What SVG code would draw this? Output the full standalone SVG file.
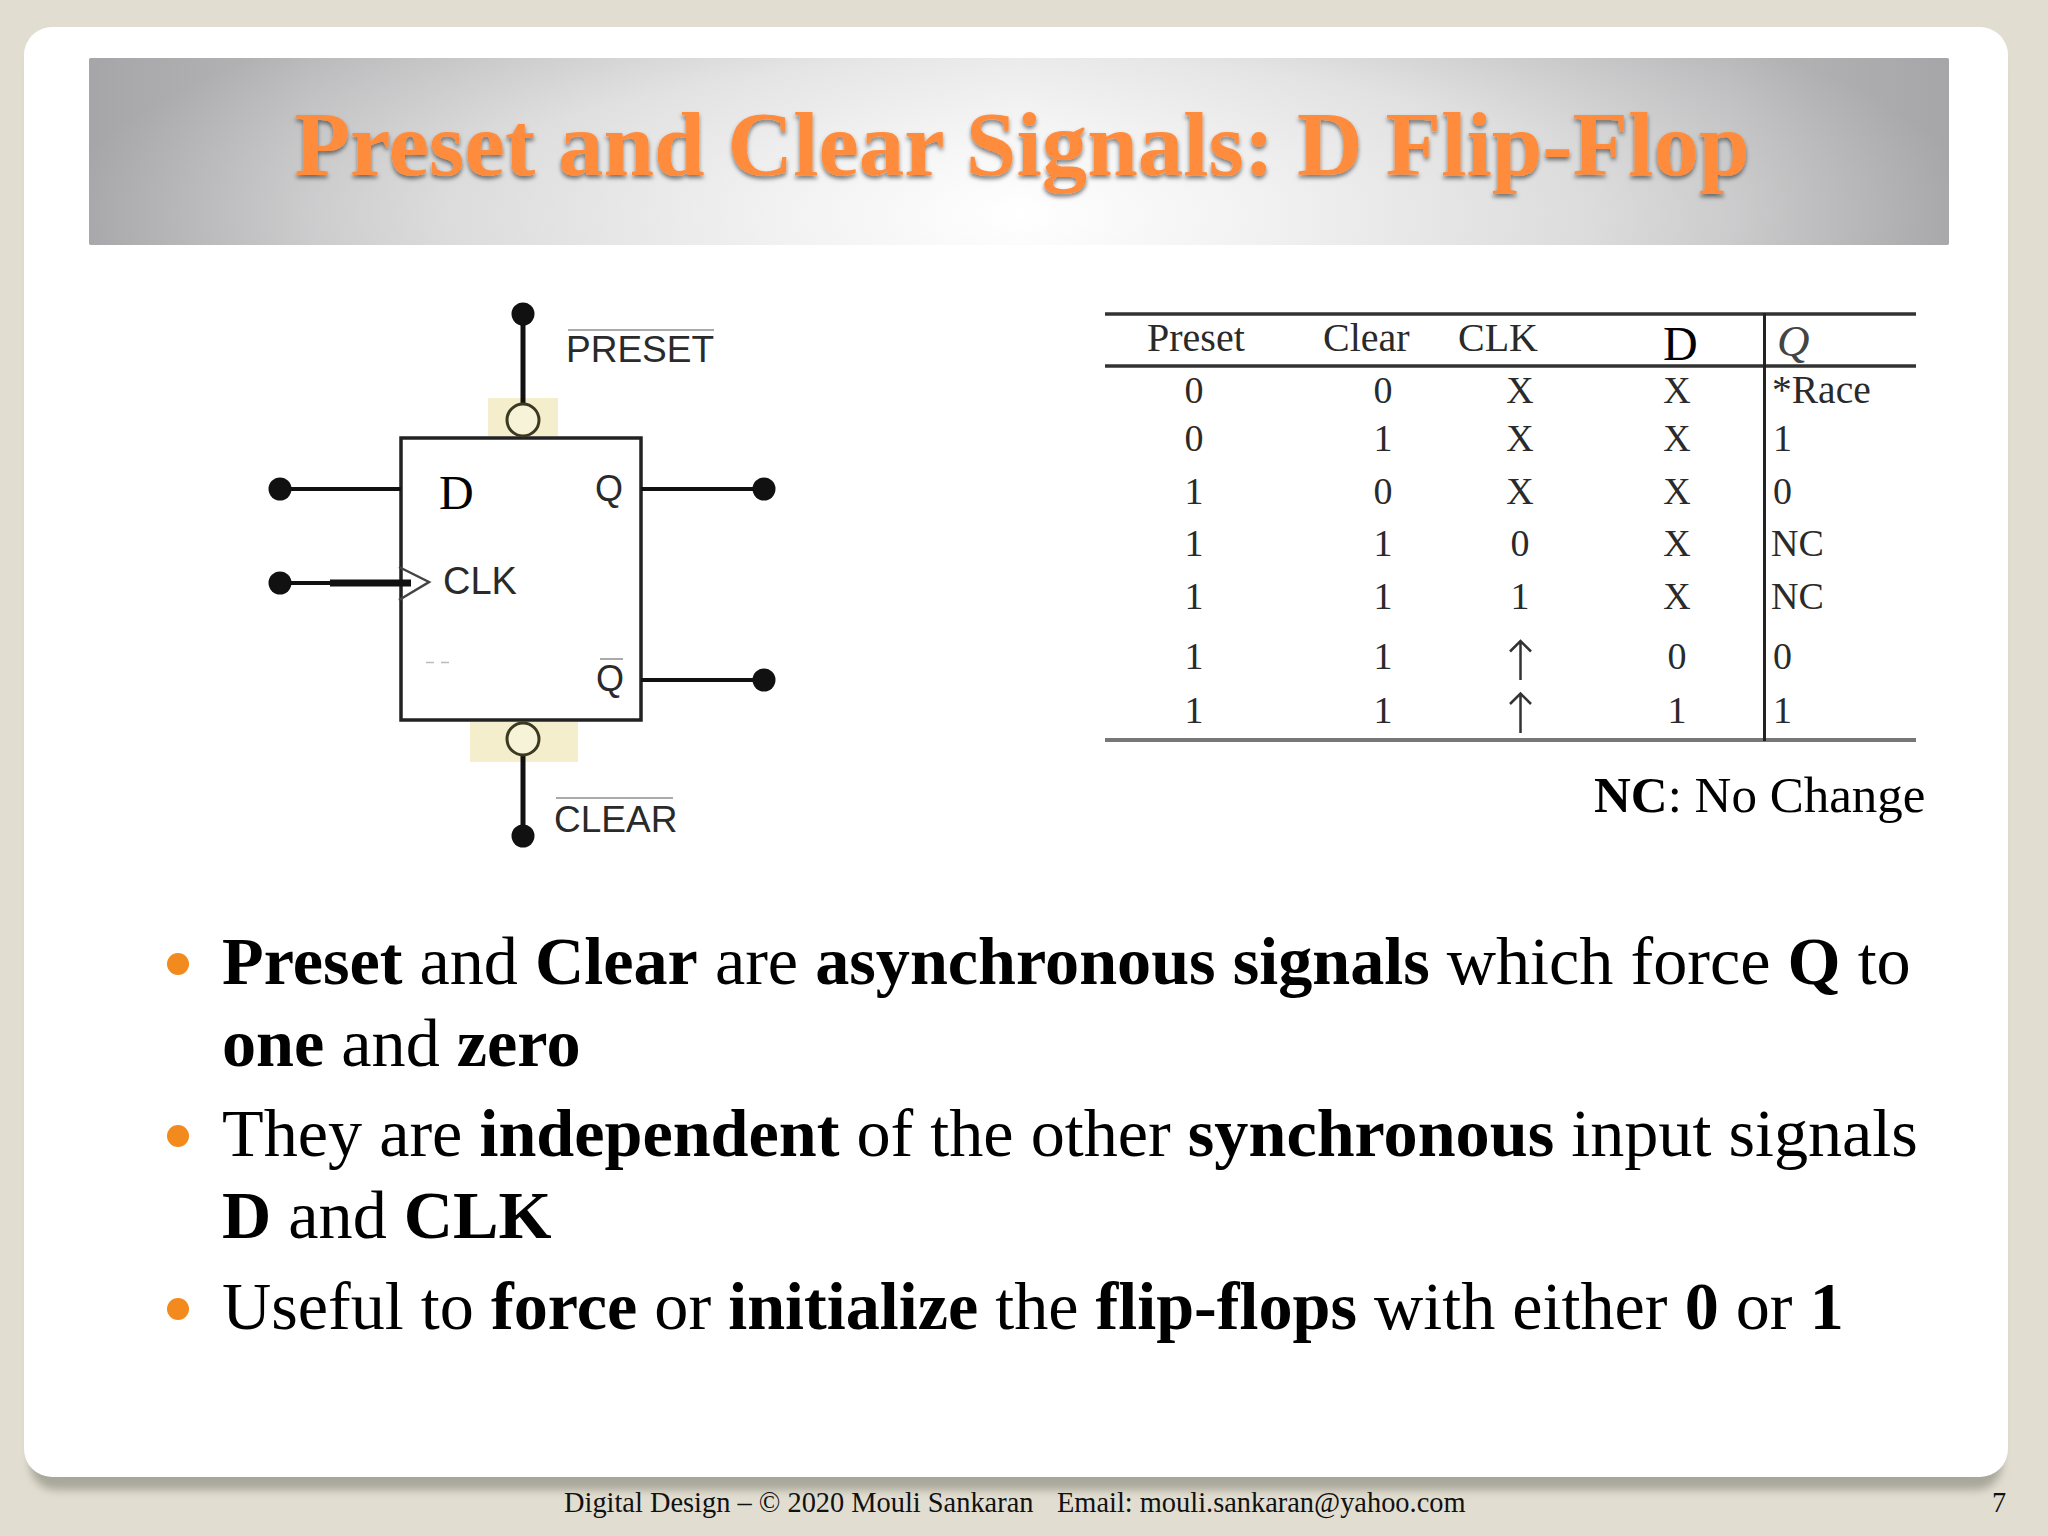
<svg xmlns="http://www.w3.org/2000/svg" width="2048" height="1536" viewBox="0 0 2048 1536">
<style>
.ser{font-family:"Liberation Serif","Times New Roman",serif}
.san{font-family:"Liberation Sans",Arial,sans-serif;fill:#2a2a2a}
.b{font-weight:700}
.body{font-family:"Liberation Serif","Times New Roman",serif;font-size:68.200px;fill:#000}
.foot{font-family:"Liberation Serif","Times New Roman",serif;font-size:28.400px;fill:#111}
.tb{font-family:"Liberation Serif","Times New Roman",serif;font-size:38px;fill:#2a2a2a}
.th{font-size:40px}
.c1{text-anchor:middle}
.wire{stroke:#111;stroke-width:4;fill:none}
.vw{stroke-width:5}
.dot{fill:#111}
.bub{fill:#f6f3d9;stroke:#3a3a20;stroke-width:3}
.beige{fill:#f5eecd}
.over{stroke:#aaa;stroke-width:2}
.rule{stroke:#333;stroke-width:3.5}
.arr{stroke:#333;stroke-width:2.500;fill:none}
.bul{fill:#f28a1e}
</style>
<defs>
<radialGradient id="hdr" gradientUnits="userSpaceOnUse" cx="0" cy="0" r="1" gradientTransform="translate(1019 215) scale(960 260)">
<stop offset="0" stop-color="#ffffff"/><stop offset=".25" stop-color="#f4f4f5"/><stop offset=".6" stop-color="#dededf"/><stop offset="1" stop-color="#a6a6a8"/>
</radialGradient>
<linearGradient id="hdrx" x1="0" x2="1" y1="0" y2="0">
<stop offset="0" stop-color="#a6a6a8"/><stop offset=".12" stop-color="#cfcfd0"/><stop offset=".5" stop-color="#ffffff"/><stop offset=".88" stop-color="#cfcfd0"/><stop offset="1" stop-color="#a6a6a8"/>
</linearGradient>
<filter id="ts" x="-5%" y="-20%" width="110%" height="150%"><feDropShadow dx="0" dy="3" stdDeviation="2" flood-color="#000" flood-opacity=".5"/></filter>
<filter id="blur" x="-5%" y="-5%" width="110%" height="110%"><feGaussianBlur stdDeviation="4"/></filter>
</defs>
<rect width="2048" height="1536" fill="#e1ded1"/>
<rect x="30" y="40" width="1972" height="1450" rx="26" fill="#a9a79a" filter="url(#blur)"/>
<rect id="card" x="24" y="27" width="1984" height="1450" rx="28" fill="#ffffff"/>
<g id="header">
<rect x="89" y="58" width="1860" height="187" rx="2" fill="url(#hdrx)"/>
<rect x="89" y="58" width="1860" height="187" rx="2" fill="url(#hdr)" opacity=".6"/>
<text class="ser b" x="1022" y="175" text-anchor="middle" font-size="91" fill="#ff8c3c" filter="url(#ts)">Preset and Clear Signals: D Flip-Flop</text>
</g>
<g id="flipflop">
<rect class="beige" x="488" y="398" width="70" height="38"/>
<rect class="beige" x="470" y="722" width="108" height="40"/>
<rect x="401" y="438" width="240" height="282" fill="#fff" stroke="#222" stroke-width="3.5"/>
<polyline points="399,567 429,582 399,600" fill="none" stroke="#444" stroke-width="2.500"/>
<line x1="426" y1="662.500" x2="434" y2="662.500" stroke="#bbb" stroke-width="1.500"/>
<line x1="441" y1="662.500" x2="449" y2="662.500" stroke="#bbb" stroke-width="1.500"/>
<text class="ser" x="439" y="509" font-size="48" fill="#000">D</text>
<text class="san" x="595" y="501" font-size="36">Q</text>
<text class="san" x="443" y="594" font-size="38">CLK</text>
<text class="san" x="596" y="691" font-size="36">Q</text>
<line class="over" x1="600" y1="659" x2="623" y2="659"/>
</g>
<g id="connectors">
<line class="wire vw" x1="523" y1="314" x2="523" y2="404"/>
<line class="wire vw" x1="523" y1="755" x2="523" y2="836"/>
<line class="wire" x1="280" y1="489" x2="401" y2="489"/>
<line class="wire" x1="280" y1="583" x2="331" y2="583"/>
<line x1="330" y1="583" x2="411" y2="583" stroke="#111" stroke-width="7"/>
<line class="wire" x1="641" y1="489" x2="764" y2="489"/>
<line class="wire" x1="641" y1="680" x2="764" y2="680"/>
</g>
<g id="preset-input">
<circle class="dot" cx="523" cy="314" r="11.500"/>
<circle class="bub" cx="523" cy="420" r="16"/>
<text class="san" x="566" y="362" font-size="37">PRESET</text>
<line class="over" x1="568" y1="330" x2="714" y2="330"/>
</g>
<g id="clear-input">
<circle class="bub" cx="523" cy="739" r="16"/>
<circle class="dot" cx="523" cy="836" r="11.500"/>
<text class="san" x="554" y="832" font-size="37">CLEAR</text>
<line class="over" x1="556" y1="798" x2="673" y2="798"/>
</g>
<g id="terminals">
<circle class="dot" cx="280" cy="489" r="11.500"/>
<circle class="dot" cx="280" cy="583" r="11.500"/>
<circle class="dot" cx="764" cy="489" r="11.500"/>
<circle class="dot" cx="764" cy="680" r="11.500"/>
</g>
<g id="truth-table">
<line class="rule" x1="1105" y1="314" x2="1916" y2="314"/>
<line class="rule" x1="1105" y1="366" x2="1916" y2="366"/>
<line x1="1105" y1="740" x2="1916" y2="740" stroke="#777" stroke-width="4"/>
<line x1="1764.500" y1="313" x2="1764.500" y2="741" stroke="#222" stroke-width="3"/>
<g class="tb">
<text class="th" x="1147" y="351">Preset</text>
<text class="th" x="1323" y="351">Clear</text>
<text class="th" x="1458" y="351">CLK</text>
<text x="1663" y="360" style="font-size:48px;fill:#000">D</text>
<text x="1777" y="356" font-style="italic" style="font-size:45px;fill:#444">Q</text>
</g>
<g class="tb c1">
<text x="1194" y="403">0</text><text x="1383" y="403">0</text><text x="1520" y="403">X</text><text x="1677" y="403">X</text>
<text x="1194" y="451">0</text><text x="1383" y="451">1</text><text x="1520" y="451">X</text><text x="1677" y="451">X</text>
<text x="1194" y="504">1</text><text x="1383" y="504">0</text><text x="1520" y="504">X</text><text x="1677" y="504">X</text>
<text x="1194" y="556">1</text><text x="1383" y="556">1</text><text x="1520" y="556">0</text><text x="1677" y="556">X</text>
<text x="1194" y="609">1</text><text x="1383" y="609">1</text><text x="1520" y="609">1</text><text x="1677" y="609">X</text>
<text x="1194" y="669">1</text><text x="1383" y="669">1</text><text x="1677" y="669">0</text>
<text x="1194" y="723">1</text><text x="1383" y="723">1</text><text x="1677" y="723">1</text>
</g>
<g class="tb">
<text x="1772" y="403" style="font-size:39.500px">*Race</text>
<text x="1773" y="451">1</text>
<text x="1773" y="504">0</text>
<text x="1771" y="556">NC</text>
<text x="1771" y="609">NC</text>
<text x="1773" y="669">0</text>
<text x="1773" y="723">1</text>
</g>
<path class="arr" d="M1520.500 680V641M1510 651.500L1520.500 641L1531 651.500"/>
<path class="arr" d="M1520.500 733V693.500M1510 704L1520.500 693.500L1531 704"/>
<text class="ser" x="1594" y="812" font-size="51" fill="#000"><tspan class="b">NC</tspan>: No Change</text>
</g>
<g id="bullets">
<circle class="bul" cx="178" cy="964" r="11"/>
<circle class="bul" cx="178" cy="1136" r="11"/>
<circle class="bul" cx="178" cy="1309" r="11"/>
<text class="body" x="222" y="984"><tspan class="b">Preset</tspan> and <tspan class="b">Clear</tspan> are <tspan class="b">asynchronous signals</tspan> which force <tspan class="b">Q</tspan> to</text>
<text class="body" x="222" y="1066"><tspan class="b">one</tspan> and <tspan class="b">zero</tspan></text>
<text class="body" x="222" y="1156">They are <tspan class="b">independent</tspan> of the other <tspan class="b">synchronous</tspan> input signals</text>
<text class="body" x="222" y="1238"><tspan class="b">D</tspan> and <tspan class="b">CLK</tspan></text>
<text class="body" x="222" y="1329">Useful to <tspan class="b">force</tspan> or <tspan class="b">initialize</tspan> the <tspan class="b">flip-flops</tspan> with either <tspan class="b">0</tspan> or <tspan class="b">1</tspan></text>
</g>
<g id="footer">
<text class="foot" x="564" y="1512">Digital Design – © 2020 Mouli Sankaran</text>
<text class="foot" x="1057" y="1512">Email: mouli.sankaran@yahoo.com</text>
<text class="foot" x="1992" y="1512">7</text>
</g>
</svg>
